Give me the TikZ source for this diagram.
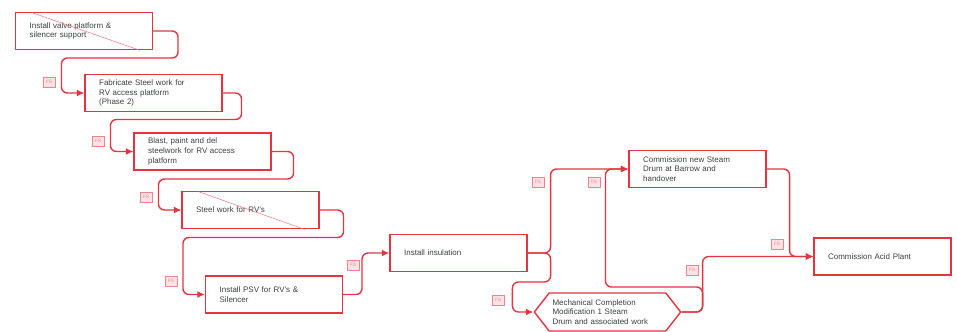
\documentclass[tikz,border=0pt]{standalone}
\usepackage{fontspec}
\setmainfont{Liberation Sans}
\usetikzlibrary{arrows.meta,calc,shapes.symbols}
\definecolor{linkred}{RGB}{228,52,64}
\definecolor{labelpink}{RGB}{252,226,230}
\definecolor{tasktext}{RGB}{60,66,62}

\begin{document}
\begin{tikzpicture}[
    x=0.03cm, y=-0.03cm,
    task/.style={rectangle,draw=linkred,fill=white,line width=1.2pt,
      minimum width=4.1cm,minimum height=1.12cm,inner xsep=0.42cm,
      text width=3.26cm,align=left,text=tasktext,
      font=\fontsize{6.8}{8.4}\selectfont},
    milestone/.style={signal,signal to=west and east,signal pointer angle=104,
      draw=linkred,fill=white,line width=1.2pt,minimum height=1.14cm,
      inner xsep=0.1cm,text width=3.3cm,align=left,text=tasktext,
      font=\fontsize{6.8}{8.4}\selectfont},
    link/.style={-{Latex[length=2.3mm,width=2.1mm]},draw=linkred,line width=1.2pt,
      rounded corners=0.18cm},
    strike/.style={draw=linkred!70,line width=0.4pt},
    lag/.style={rectangle,draw=linkred!60,fill=labelpink,line width=0.4pt,
      minimum width=0.36cm,minimum height=0.3cm,inner sep=0pt,
      text=linkred!60,font=\fontsize{4}{4}\selectfont}
  ]
    \useasboundingbox (0,0) rectangle (957,331);

    % tasks
    \node[task] (valve) at (84,31) {Install valve platform \&\\silencer support};
    \node[task] (fabricate) at (153.5,93) {Fabricate Steel work for\\RV access platform\\(Phase 2)};
    \node[task] (blast) at (202.5,151.5) {Blast, paint and del\\steelwork for RV access\\platform};
    \node[task] (steel) at (250.5,210) {Steel work for RV's};
    \node[task] (psv) at (274,294.5) {Install PSV for RV's \&\\Silencer};
    \node[task] (insul) at (458.5,253) {Install insulation};
    \node[task] (steam) at (697.5,169) {Commission new Steam\\Drum at Barrow and\\handover};
    \node[milestone] (mech) at (607.5,312) {Mechanical Completion\\Modification 1 Steam\\Drum and associated work};
    \node[task] (acid) at (882.5,256.5) {Commission Acid Plant};

    % completed tasks are struck through
    \draw[strike] ($(valve.north west)+(17,1)$) -- ($(valve.south east)+(-13,0)$);
    \draw[strike] ($(steel.north west)+(17,1)$) -- ($(steel.south east)+(-15,0)$);

    % links
    \draw[link] (valve.east) -- ++(25,0) |- ($(fabricate.west)+(-23,-35)$) |- (fabricate.west);
    \draw[link] (fabricate.east) -- ++(19,0) |- ($(blast.west)+(-23,-32)$) |- (blast.west);
    \draw[link] (blast.east) -- ++(22,0) |- ($(steel.west)+(-23,-31)$) |- (steel.west);
    \draw[link] (steel.east) -- ++(24,0) |- ($(psv.west)+(-22,-57)$) |- (psv.west);
    \draw[link] (psv.east) -- ++(19,0) |- (insul.west);
    \draw[link] (insul.east) -- ++(23,0) |- (steam.west);
    \draw[link] (insul.east) -- ++(23,0) |- ($(mech.west)+(-21,-30)$) |- (mech.west);
    \draw[link] (mech.east) -- ++(21,0) |- ($(steam.west)+(-23,118)$) |- (steam.west);
    \draw[link] (mech.east) -- ++(21,0) |- (acid.west);
    \draw[link] (steam.east) -- ++(23,0) |- (acid.west);

    % link type labels
    \node[lag] (l1) at (49,82) {FS};
    \node[lag] (l2) at (98,141) {FS};
    \node[lag] (l3) at (146,197) {FS};
    \node[lag] (l4) at (171,281) {FS};
    \node[lag] (l5) at (353,265) {FS};
    \node[lag] (l6) at (538,182) {FS};
    \node[lag] (l7) at (594,182) {FS};
    \node[lag] (l8) at (498,300) {FS};
    \node[lag] (l9) at (692,270) {FS};
    \node[lag] (l10) at (777,244) {FS};
  \end{tikzpicture}
\end{document}
